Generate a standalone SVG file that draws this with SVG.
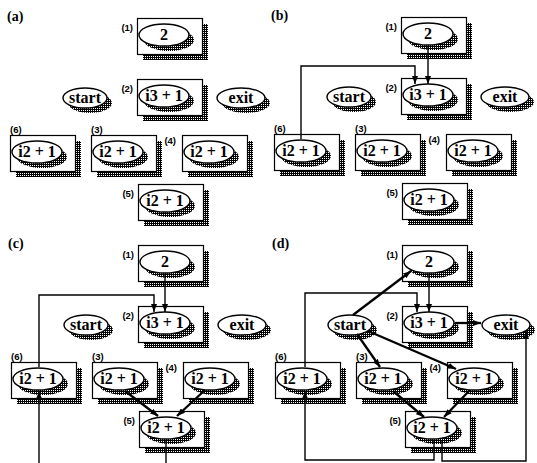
<svg xmlns="http://www.w3.org/2000/svg" xmlns:xlink="http://www.w3.org/1999/xlink" width="537" height="463" viewBox="0 0 537 463">
<style>
.bx{fill:#fff;stroke:#000;stroke-width:1.2}
.el{fill:#fff;stroke:#000;stroke-width:1.4}
.sh{fill:url(#dith)}
.t{font-family:"Liberation Serif",serif;font-weight:bold;font-size:16px;text-anchor:middle}
.l{font-family:"Liberation Sans",sans-serif;font-weight:bold;font-size:9.5px}
.le{font-family:"Liberation Sans",sans-serif;font-weight:bold;font-size:9.5px;text-anchor:end}
.p{font-family:"Liberation Serif",serif;font-weight:bold;font-size:14px}
.c{fill:none;stroke:#000;stroke-width:1.4}
.cd{fill:none;stroke:#000;stroke-width:2.3}
</style>
<defs>
<pattern id="dith" width="2" height="2" patternUnits="userSpaceOnUse">
<rect width="2" height="2" fill="#000"/><rect width="1" height="1" fill="#fff"/>
</pattern>
<marker id="ah" viewBox="0 0 8 6" refX="8" refY="3" markerWidth="8" markerHeight="6" markerUnits="userSpaceOnUse" orient="auto"><path d="M0,0 L8,3 L0,6 z" fill="#000"/></marker>
<g id="boxnode">
<rect class="sh" x="6" y="6" width="65" height="36"/>
<rect class="bx" x="0.5" y="0.5" width="65" height="36"/>
<ellipse class="sh" cx="32" cy="22" rx="25" ry="11"/>
<ellipse class="el" cx="27" cy="17" rx="25" ry="11"/>
</g>
<g id="startnode">
<ellipse class="sh" cx="5" cy="5" rx="22" ry="10"/>
<ellipse class="el" cx="0" cy="0" rx="22" ry="10"/>
</g>
<g id="exitnode">
<ellipse class="sh" cx="5" cy="5" rx="24" ry="10"/>
<ellipse class="el" cx="0" cy="0" rx="24" ry="10"/>
</g>
</defs>
<rect width="537" height="463" fill="#fff"/>

<!-- panel (a) -->
<g id="panel-a">
<text class="p" x="7" y="21">(a)</text>
<g id="a-n1" transform="translate(137,18)"><use xlink:href="#boxnode"/><text class="t" x="27" y="22">2</text><text class="le" x="-4" y="13">(1)</text></g>
<g id="a-n2" transform="translate(137,79)"><use xlink:href="#boxnode"/><text class="t" x="27" y="22">i3 + 1</text><text class="le" x="-4" y="13">(2)</text></g>
<g id="a-start" transform="translate(85,98)"><use xlink:href="#startnode"/><text class="t" x="0" y="5">start</text></g>
<g id="a-exit" transform="translate(241,98)"><use xlink:href="#exitnode"/><text class="t" x="0" y="5">exit</text></g>
<g id="a-n6" transform="translate(10,135)"><use xlink:href="#boxnode"/><text class="t" x="27" y="22">i2 + 1</text><text class="l" x="0" y="-2">(6)</text></g>
<g id="a-n3" transform="translate(91,135)"><use xlink:href="#boxnode"/><text class="t" x="27" y="22">i2 + 1</text><text class="l" x="0" y="-2">(3)</text></g>
<g id="a-n4" transform="translate(182,135)"><use xlink:href="#boxnode"/><text class="t" x="27" y="22">i2 + 1</text><text class="le" x="-6" y="9">(4)</text></g>
<g id="a-n5" transform="translate(138,184)"><use xlink:href="#boxnode"/><text class="t" x="27" y="22">i2 + 1</text><text class="le" x="-4" y="13">(5)</text></g>
</g>

<!-- panel (b) -->
<g id="panel-b" transform="translate(264,-1)">
<text class="p" x="7" y="21">(b)</text>
<g id="b-n1" transform="translate(137,18)"><use xlink:href="#boxnode"/><text class="t" x="27" y="22">2</text><text class="le" x="-4" y="13">(1)</text></g>
<g id="b-n2" transform="translate(137,79)"><use xlink:href="#boxnode"/><text class="t" x="27" y="22">i3 + 1</text><text class="le" x="-4" y="13">(2)</text></g>
<g id="b-start" transform="translate(85,98)"><use xlink:href="#startnode"/><text class="t" x="0" y="5">start</text></g>
<g id="b-exit" transform="translate(241,98)"><use xlink:href="#exitnode"/><text class="t" x="0" y="5">exit</text></g>
<g id="b-n6" transform="translate(10,135)"><use xlink:href="#boxnode"/><text class="t" x="27" y="22">i2 + 1</text><text class="l" x="0" y="-2">(6)</text></g>
<g id="b-n3" transform="translate(91,135)"><use xlink:href="#boxnode"/><text class="t" x="27" y="22">i2 + 1</text><text class="l" x="0" y="-2">(3)</text></g>
<g id="b-n4" transform="translate(182,135)"><use xlink:href="#boxnode"/><text class="t" x="27" y="22">i2 + 1</text><text class="le" x="-6" y="9">(4)</text></g>
<g id="b-n5" transform="translate(138,184)"><use xlink:href="#boxnode"/><text class="t" x="27" y="22">i2 + 1</text><text class="le" x="-4" y="13">(5)</text></g>
</g>

<!-- panel (c) -->
<g id="panel-c" transform="translate(1,227)">
<text class="p" x="7" y="21">(c)</text>
<g id="c-n1" transform="translate(137,18)"><use xlink:href="#boxnode"/><text class="t" x="27" y="22">2</text><text class="le" x="-4" y="13">(1)</text></g>
<g id="c-n2" transform="translate(137,79)"><use xlink:href="#boxnode"/><text class="t" x="27" y="22">i3 + 1</text><text class="le" x="-4" y="13">(2)</text></g>
<g id="c-start" transform="translate(85,98)"><use xlink:href="#startnode"/><text class="t" x="0" y="5">start</text></g>
<g id="c-exit" transform="translate(241,98)"><use xlink:href="#exitnode"/><text class="t" x="0" y="5">exit</text></g>
<g id="c-n6" transform="translate(10,135)"><use xlink:href="#boxnode"/><text class="t" x="27" y="22">i2 + 1</text><text class="l" x="0" y="-2">(6)</text></g>
<g id="c-n3" transform="translate(91,135)"><use xlink:href="#boxnode"/><text class="t" x="27" y="22">i2 + 1</text><text class="l" x="0" y="-2">(3)</text></g>
<g id="c-n4" transform="translate(182,135)"><use xlink:href="#boxnode"/><text class="t" x="27" y="22">i2 + 1</text><text class="le" x="-6" y="9">(4)</text></g>
<g id="c-n5" transform="translate(138,184)"><use xlink:href="#boxnode"/><text class="t" x="27" y="22">i2 + 1</text><text class="le" x="-4" y="13">(5)</text></g>
</g>

<!-- panel (d) -->
<g id="panel-d" transform="translate(265,227)">
<text class="p" x="7" y="21">(d)</text>
<g id="d-n1" transform="translate(137,18)"><use xlink:href="#boxnode"/><text class="t" x="27" y="22">2</text><text class="le" x="-4" y="13">(1)</text></g>
<g id="d-n2" transform="translate(137,79)"><use xlink:href="#boxnode"/><text class="t" x="27" y="22">i3 + 1</text><text class="le" x="-4" y="13">(2)</text></g>
<g id="d-start" transform="translate(85,98)"><use xlink:href="#startnode"/><text class="t" x="0" y="5">start</text></g>
<g id="d-exit" transform="translate(241,98)"><use xlink:href="#exitnode"/><text class="t" x="0" y="5">exit</text></g>
<g id="d-n6" transform="translate(10,135)"><use xlink:href="#boxnode"/><text class="t" x="27" y="22">i2 + 1</text><text class="l" x="0" y="-2">(6)</text></g>
<g id="d-n3" transform="translate(91,135)"><use xlink:href="#boxnode"/><text class="t" x="27" y="22">i2 + 1</text><text class="l" x="0" y="-2">(3)</text></g>
<g id="d-n4" transform="translate(182,135)"><use xlink:href="#boxnode"/><text class="t" x="27" y="22">i2 + 1</text><text class="le" x="-6" y="9">(4)</text></g>
<g id="d-n5" transform="translate(140,184)"><use xlink:href="#boxnode"/><text class="t" x="27" y="22">i2 + 1</text><text class="le" x="-4" y="13">(5)</text></g>
</g>

<!-- connectors -->
<g id="connectors">
<g id="conn-b" transform="translate(264,-1)">
<path class="c" d="M164,47 V85" marker-end="url(#ah)"/>
<path class="c" d="M37,140 V67 H151 V85" marker-end="url(#ah)"/>
</g>
<g id="conn-c" transform="translate(1,227)">
<path class="c" d="M164,47 V85" marker-end="url(#ah)"/>
<path class="c" d="M38,140 V68 H153 V85" marker-end="url(#ah)"/>
<path class="c" d="M38,240 V164" marker-end="url(#ah)"/>
<path class="cd" d="M124,164 L157,189" marker-end="url(#ah)"/>
<path class="cd" d="M204,163 L176,189" marker-end="url(#ah)"/>
<path class="c" d="M165,213 V240"/>
</g>
<g id="conn-d" transform="translate(265,227)">
<path class="c" d="M164,47 V85" marker-end="url(#ah)"/>
<path class="c" d="M40,140 V66 H152 V85" marker-end="url(#ah)"/>
<path class="cd" d="M88,88 L146,44" marker-end="url(#ah)"/>
<path class="cd" d="M190,96 H216" marker-end="url(#ah)"/>
<path class="cd" d="M92,107 L115,140" marker-end="url(#ah)"/>
<path class="cd" d="M103,104 L191,142" marker-end="url(#ah)"/>
<path class="cd" d="M128,164 L159,190" marker-end="url(#ah)"/>
<path class="cd" d="M205,163 L179,190" marker-end="url(#ah)"/>
<path class="c" d="M169,213 V233 H40 V164" marker-end="url(#ah)"/>
<path class="c" d="M177,213 V234 H261 V104" marker-end="url(#ah)"/>
</g>
</g>
</svg>
